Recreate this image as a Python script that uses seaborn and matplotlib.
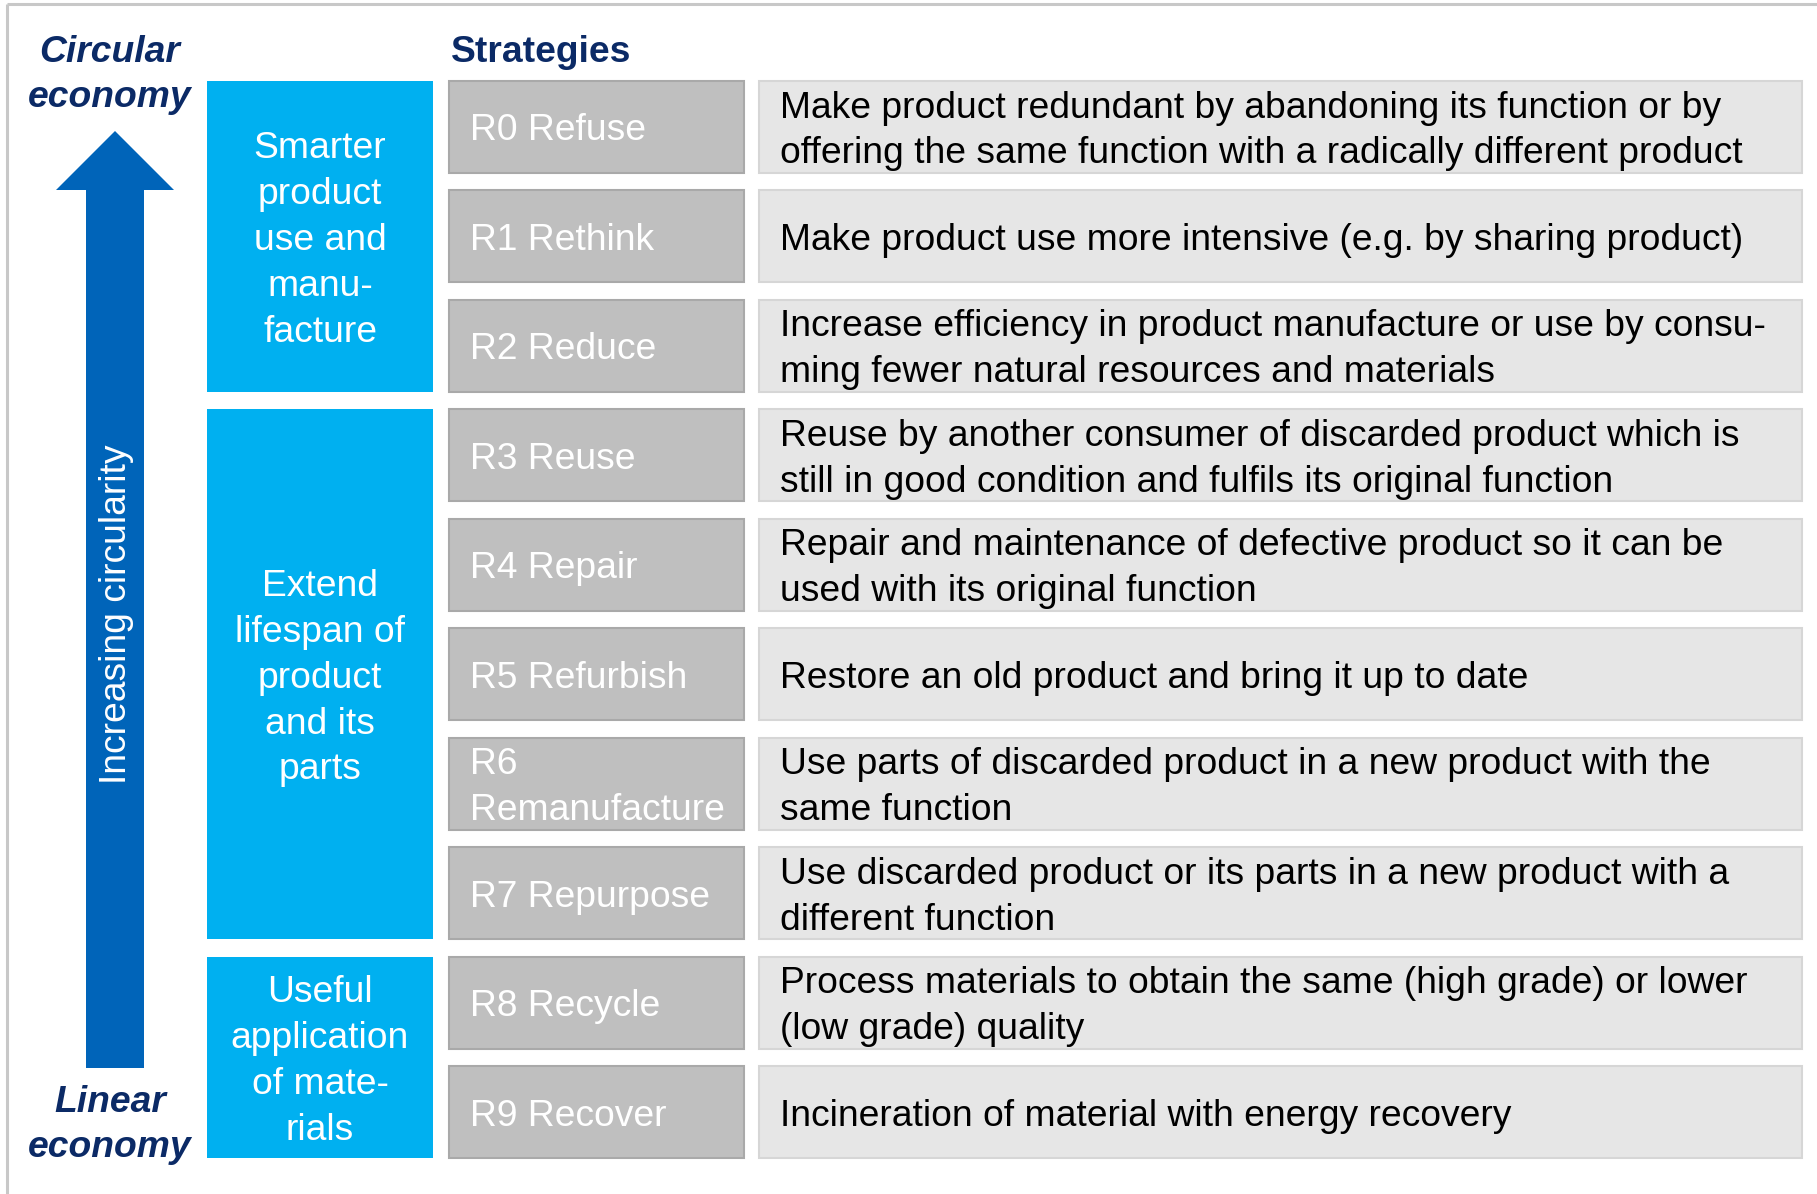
import matplotlib
matplotlib.use("Agg")
import matplotlib.pyplot as plt
from matplotlib.patches import Rectangle, Polygon
import seaborn as sns

sns.set_style("white")
plt.rcParams['font.family'] = ['Liberation Sans', 'DejaVu Sans']

# ---- data ----
strategies = ["R0 Refuse", "R1 Rethink", "R2 Reduce", "R3 Reuse", "R4 Repair",
              "R5 Refurbish", "R6\nRemanufacture", "R7 Repurpose", "R8 Recycle",
              "R9 Recover"]
descriptions = [
    "Make product redundant by abandoning its function or by\noffering the same function with a radically different product",
    "Make product use more intensive (e.g. by sharing product)",
    "Increase efficiency in product manufacture or use by consu-\nming fewer natural resources and materials",
    "Reuse by another consumer of discarded product which is\nstill in good condition and fulfils its original function",
    "Repair and maintenance of defective product so it can be\nused with its original function",
    "Restore an old product and bring it up to date",
    "Use parts of discarded product in a new product with the\nsame function",
    "Use discarded product or its parts in a new product with a\ndifferent function",
    "Process materials to obtain the same (high grade) or lower\n(low grade) quality",
    "Incineration of material with energy recovery",
]
group_labels = ["Smarter\nproduct\nuse and\nmanu-\nfacture",
                "Extend\nlifespan of\nproduct\nand its\nparts",
                "Useful\napplication\nof mate-\nrials"]
group_first = [0, 3, 8]
group_last = [2, 7, 9]
top_label = "Circular\neconomy"
bottom_label = "Linear\neconomy"
arrow_label = "Increasing circularity"
header = "Strategies"

# ---- style ----
W, H = 1817, 1194
NAVY = "#0b2a66"
CYAN = "#00b0f0"
ARROW = "#0064b9"
FS = 26.8
LS = 1.40
DY = 4

row0, pitch, box_h = 81, 109.45, 92
grp_x0, grp_x1 = 207, 433
str_x0, str_x1 = 449, 744
dsc_x0, dsc_x1 = 759, 1802

fig = plt.figure(figsize=(W / 100, H / 100), dpi=100)
ax = fig.add_axes([0, 0, 1, 1])
ax.set_xlim(0, W)
ax.set_ylim(H, 0)
ax.axis("off")

# outer frame (top and left only)
ax.plot([7, W], [3.5, 3.5], color="#c8c8c8", lw=2.2, solid_capstyle="butt")
ax.plot([7, 7], [3.5, H], color="#c8c8c8", lw=2.2, solid_capstyle="butt")

# strategy rows
for i, (name, desc) in enumerate(zip(strategies, descriptions)):
    y = row0 + i * pitch
    ax.add_patch(Rectangle((str_x0, y), str_x1 - str_x0, box_h,
                           facecolor="#bfbfbf", edgecolor="#a9a9a9", lw=1.5))
    ax.text(str_x0 + 21, y + box_h / 2 + DY, name, color="white", fontsize=FS,
            va="center", ha="left", linespacing=LS)
    ax.add_patch(Rectangle((dsc_x0, y), dsc_x1 - dsc_x0, box_h,
                           facecolor="#e6e6e6", edgecolor="#d6d6d6", lw=1.5))
    ax.text(dsc_x0 + 21, y + box_h / 2 + DY, desc, color="black", fontsize=FS,
            va="center", ha="left", linespacing=LS)

# group boxes
for label, a, b in zip(group_labels, group_first, group_last):
    y0 = row0 + a * pitch
    y1 = row0 + b * pitch + box_h
    ax.add_patch(Rectangle((grp_x0, y0), grp_x1 - grp_x0, y1 - y0,
                           facecolor=CYAN, edgecolor="none"))
    ax.text((grp_x0 + grp_x1) / 2, (y0 + y1) / 2 + DY, label, color="white",
            fontsize=FS, ha="center", va="center", linespacing=LS)

# arrow
ax.add_patch(Polygon([(86, 1068), (144, 1068), (144, 190), (174, 190),
                      (115, 131), (56, 190), (86, 190)],
                     closed=True, facecolor=ARROW, edgecolor="none"))
ax.text(116, 614, arrow_label, color="white", fontsize=FS, rotation=90,
        ha="center", va="center")

# side labels
ax.text(110, 71 + DY, top_label, color=NAVY, fontsize=FS, fontweight="bold",
        fontstyle="italic", ha="center", va="center", linespacing=LS)
ax.text(110, 1121 + DY, bottom_label, color=NAVY, fontsize=FS, fontweight="bold",
        fontstyle="italic", ha="center", va="center", linespacing=LS)
ax.text(451, 49 + DY, header, color=NAVY, fontsize=FS, fontweight="bold",
        ha="left", va="center")

fig.savefig("out.png", dpi=100)
